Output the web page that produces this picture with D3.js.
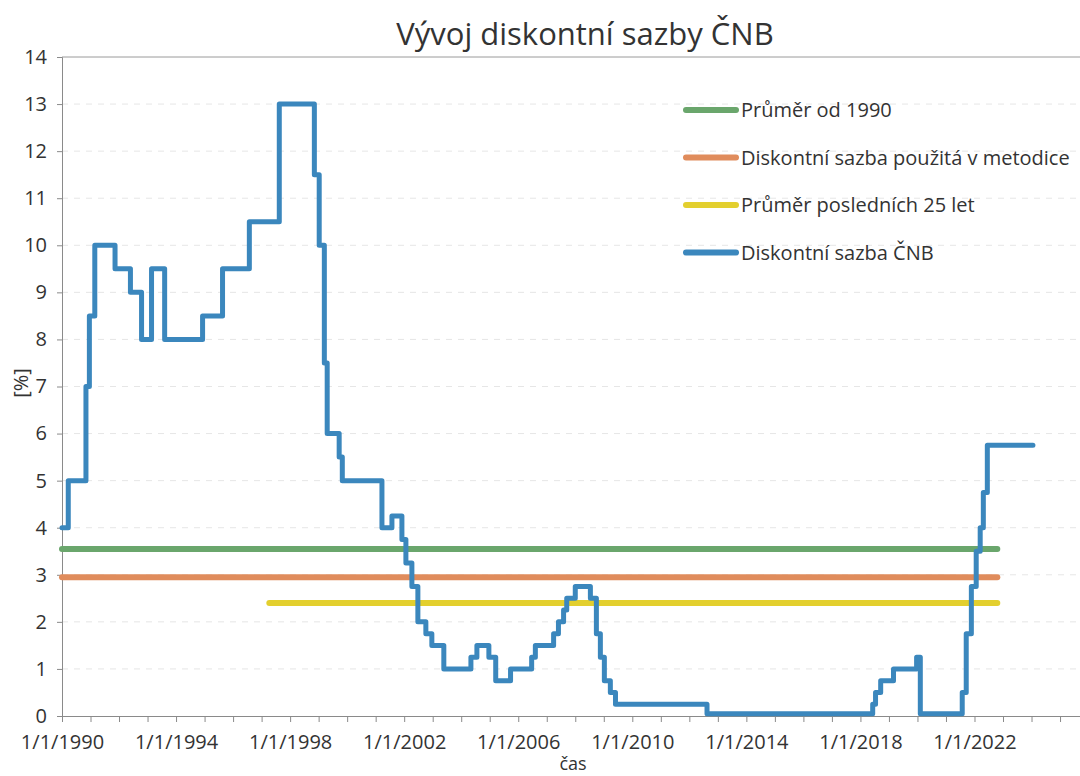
<!DOCTYPE html>
<html>
<head>
<meta charset="utf-8">
<script src="https://cdn.jsdelivr.net/npm/d3@7"></script>
<style>
  body { margin: 0; background: #fff; }
  text { font-family: "Open Sans", "Noto Sans", sans-serif; fill: #333; }
</style>
</head>
<body>
<div id="chart"></div>
<script>
// CNB discount rate - step dates (decimal years) and values
var rateYears = [1990.0, 1990.22, 1990.84, 1990.96, 1991.15, 1991.86, 1992.4, 1992.79, 1993.14, 1993.6,
    1994.93, 1995.63, 1996.57, 1997.62, 1998.85, 1999.02, 1999.2, 1999.3, 1999.72, 1999.83,
    2001.22, 2001.57, 2001.92, 2002.06, 2002.27, 2002.48, 2002.76, 2002.97, 2003.39, 2004.34,
    2004.55, 2004.97, 2005.21, 2005.73, 2006.47, 2006.6, 2007.24, 2007.41, 2007.59, 2007.7,
    2008.0, 2008.53, 2008.74, 2008.88, 2009.02, 2009.23, 2009.41, 2012.62, 2018.43, 2018.53,
    2018.71, 2019.16, 2019.97, 2020.1, 2021.57, 2021.71, 2021.89, 2022.06, 2022.2, 2022.31,
    2022.45, 2024.05];
var rateValues = [4.0, 5.0, 7.0, 8.5, 10.0, 9.5, 9.0, 8.0, 9.5, 8.0,
    8.5, 9.5, 10.5, 13.0, 11.5, 10.0, 7.5, 6.0, 5.5, 5.0,
    4.0, 4.25, 3.75, 3.25, 2.75, 2.0, 1.75, 1.5, 1.0, 1.25,
    1.5, 1.25, 0.75, 1.0, 1.25, 1.5, 1.75, 2.0, 2.25, 2.5,
    2.75, 2.5, 1.75, 1.25, 0.75, 0.5, 0.25, 0.05, 0.25, 0.5,
    0.75, 1.0, 1.25, 0.05, 0.5, 1.75, 2.75, 3.5, 4.0, 4.75,
    5.75, 5.75];

// horizontal reference lines
var refNames = ["Průměr od 1990", "Diskontní sazba použitá v metodice", "Průměr posledních 25 let"];
var refValues = [3.55, 2.95, 2.4];
var refStart = [1990.0, 1990.0, 1997.27];
var refEnd = [2022.8, 2022.8, 2022.8];
var refColors = ["#6aa66c", "#e08c5c", "#e3cf2e"];

var seriesName = "Diskontní sazba ČNB";
var seriesColor = "#3b87bd";

var yTicks = d3.range(0, 15);
var xMajor = [1990, 1994, 1998, 2002, 2006, 2010, 2014, 2018, 2022];

var svgWidth = 1080;
var svgHeight = 776;
var margin = { top: 57, right: 0, bottom: 60, left: 62 };
var chartWidth = svgWidth - margin.left - margin.right;
var chartHeight = svgHeight - margin.top - margin.bottom;

var svg = d3.select("#chart")
    .append("svg")
    .attr("width", svgWidth)
    .attr("height", svgHeight);

var chartGroup = svg.append("g")
    .attr("transform", `translate(${margin.left}, ${margin.top})`);

var x = d3.scaleLinear().domain([1990, 2025.7]).range([0, chartWidth]);
var y = d3.scaleLinear().domain([0, 14]).range([chartHeight, 0]);

// faint gridlines
chartGroup.append("g")
    .selectAll("line")
    .data(yTicks.filter(d => d > 0))
    .enter()
    .append("line")
    .attr("x1", 0)
    .attr("x2", chartWidth)
    .attr("y1", d => y(d))
    .attr("y2", d => y(d))
    .attr("stroke", d => d === 14 ? "#9a9a9a" : "#e6e6e6")
    .attr("stroke-dasharray", d => d === 14 ? null : "6,6");

// y axis
var yAxis = d3.axisLeft(y).tickValues(yTicks).tickSize(5).tickPadding(10);
var gy = chartGroup.append("g").call(yAxis);
gy.select(".domain").attr("stroke", "#8a8a8a");
gy.selectAll(".tick line").attr("stroke", "#8a8a8a");
gy.selectAll("text").attr("font-size", "20px").style("fill", "#333");

// x axis
var xAxis = d3.axisBottom(x)
    .tickValues(d3.range(1990, 2026))
    .tickSize(6)
    .tickPadding(13)
    .tickFormat(d => xMajor.indexOf(d) >= 0 ? "1/1/" + d : "");
var gx = chartGroup.append("g")
    .attr("transform", `translate(0, ${chartHeight})`)
    .call(xAxis);
gx.select(".domain").attr("stroke", "#8a8a8a");
gx.selectAll(".tick line").attr("stroke", "#8a8a8a");
gx.selectAll("text").attr("font-size", "20px").style("fill", "#333");

// reference lines
refValues.forEach(function (v, i) {
    chartGroup.append("line")
        .attr("x1", x(refStart[i]))
        .attr("x2", x(refEnd[i]))
        .attr("y1", y(v))
        .attr("y2", y(v))
        .attr("stroke", refColors[i])
        .attr("stroke-width", 6)
        .attr("stroke-linecap", "round");
});

// step line
var rateData = rateYears.map((d, i) => ({ year: d, value: rateValues[i] }));
var line = d3.line()
    .x(d => x(d.year))
    .y(d => y(d.value))
    .curve(d3.curveStepAfter);

chartGroup.append("path")
    .datum(rateData)
    .attr("d", line)
    .attr("fill", "none")
    .attr("stroke", seriesColor)
    .attr("stroke-width", 5)
    .attr("stroke-linejoin", "round")
    .attr("stroke-linecap", "round");

// title
svg.append("text")
    .attr("x", 585)
    .attr("y", 45)
    .attr("text-anchor", "middle")
    .attr("font-size", "31px")
    .text("Vývoj diskontní sazby ČNB");

// axis titles
svg.append("text")
    .attr("x", 573)
    .attr("y", 770)
    .attr("text-anchor", "middle")
    .attr("font-size", "18px")
    .text("čas");

svg.append("text")
    .attr("transform", "rotate(-90)")
    .attr("x", -383)
    .attr("y", 28)
    .attr("text-anchor", "middle")
    .attr("font-size", "20px")
    .text("[%]");

// legend
var legendNames = refNames.concat([seriesName]);
var legendColors = refColors.concat([seriesColor]);
var legend = svg.append("g").attr("transform", "translate(686, 110)");
legendNames.forEach(function (name, i) {
    var row = legend.append("g").attr("transform", `translate(0, ${i * 47.5})`);
    row.append("line")
        .attr("x1", 0).attr("x2", 50)
        .attr("y1", 0).attr("y2", 0)
        .attr("stroke", legendColors[i])
        .attr("stroke-width", 6)
        .attr("stroke-linecap", "round");
    row.append("text")
        .attr("x", 55)
        .attr("y", 7)
        .attr("font-size", "20px")
        .text(name);
});
</script>
</body>
</html>
